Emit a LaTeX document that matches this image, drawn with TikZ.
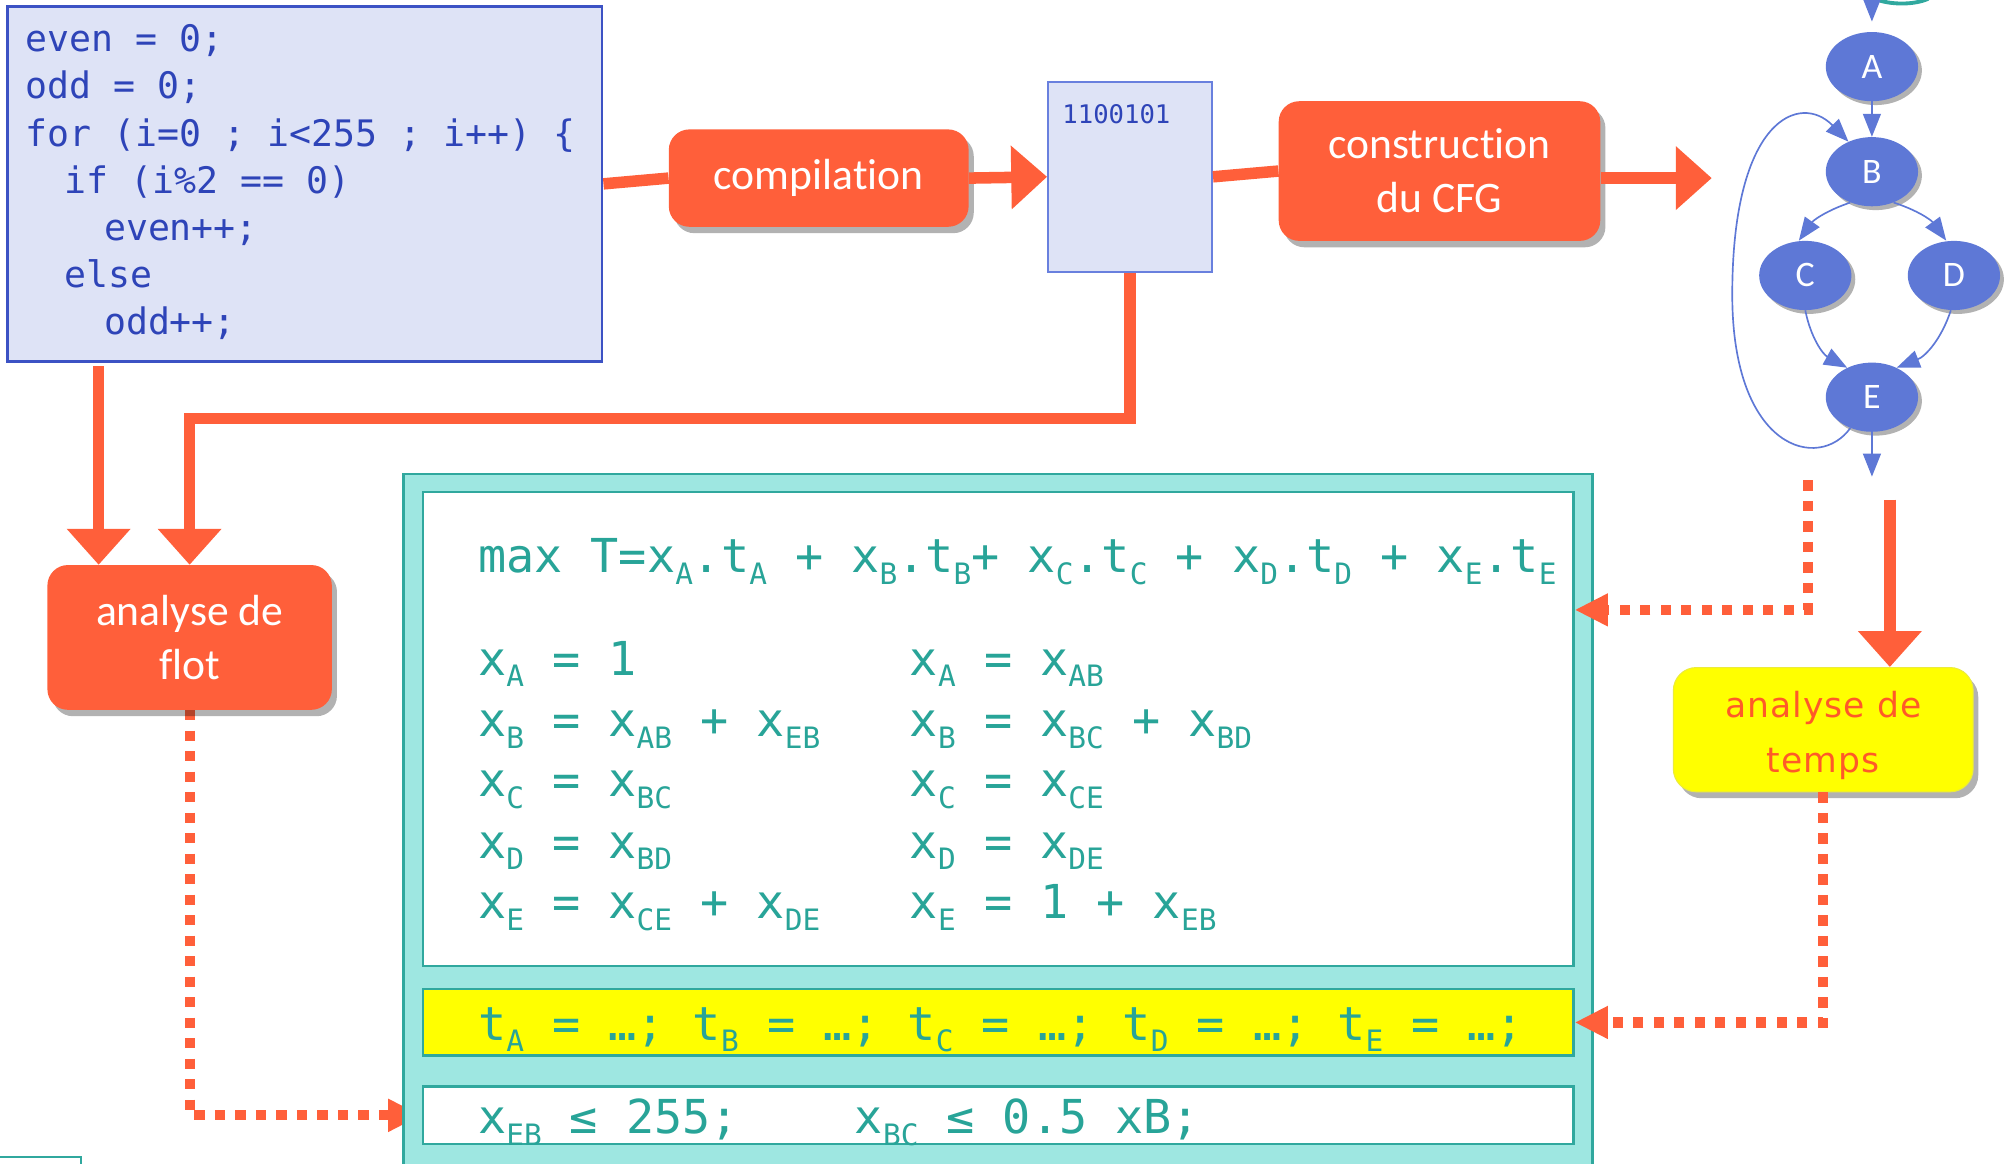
\documentclass[tikz,border=0pt]{standalone}
\usepackage{fontspec}
\setmainfont{Carlito}[Ligatures=NoCommon]
\newfontfamily\codefont{DejaVu Sans Mono}
\newfontfamily\verdfont{DejaVu Sans}[LetterSpace=3]
\usetikzlibrary{arrows.meta,shadows,shapes.geometric,backgrounds}
\definecolor{orng}{RGB}{255,95,58}
\definecolor{codefill}{RGB}{222,227,246}
\definecolor{codeline}{RGB}{60,82,196}
\definecolor{codetext}{RGB}{46,68,184}
\definecolor{binline}{RGB}{105,128,222}
\definecolor{cfgblue}{RGB}{94,120,214}
\definecolor{tealfill}{RGB}{158,231,225}
\definecolor{tealline}{RGB}{48,168,158}
\definecolor{tealtext}{RGB}{40,164,152}
\definecolor{ylw}{RGB}{255,255,0}
\definecolor{temptext}{RGB}{255,90,40}
\newcommand{\sbs}[1]{\raisebox{-9pt}{\fontsize{23}{23}\selectfont #1}}
\begin{document}
\begin{tikzpicture}[x=1pt,y=1pt,
  obox/.style={fill=orng, rounded corners=16pt, text=white, font=\fontsize{34}{42}\selectfont, align=center, inner sep=0pt,
    drop shadow={shadow xshift=4pt, shadow yshift=-5pt, opacity=0.3, fill=black}},
  bigline/.style={draw=orng, line width=9pt},
  bigarrow/.style={draw=orng, line width=9pt, -{Triangle[length=28pt,width=48pt]}},
  dotarrow/.style={draw=orng, line width=8pt, dash pattern=on 8pt off 8pt, -{Triangle[length=26pt,width=24pt]}},
  cfgnode/.style={ellipse, fill=cfgblue, text=white, minimum width=72pt, minimum height=54pt, inner sep=0pt,
    font=\fontsize{28}{28}\selectfont, drop shadow={shadow xshift=3pt, shadow yshift=-3pt, opacity=0.3, fill=black}},
  cfge/.style={draw=cfgblue, line width=1.3pt, -{Triangle[length=18pt,width=14pt]}},
  codetxt/.style={anchor=base west, inner sep=0pt, text=codetext, font=\codefont\fontsize{28.5}{28.5}\selectfont},
  eqtxt/.style={anchor=base west, inner sep=0pt, text=tealtext, font=\codefont\fontsize{36.5}{36.5}\selectfont},
  wbox/.style={draw=tealline, line width=2pt, fill=white, inner sep=0pt},
]
\useasboundingbox (0,0) rectangle (1568,-908);

\node[obox, minimum width=222pt, minimum height=113pt] (flot) at (148,-497.5) {analyse de\\flot};

% teal panel
\node[draw=tealline, line width=2pt, fill=tealfill, minimum width=928pt, minimum height=545pt, inner sep=0pt] (panel) at (779,-642.5) {};
\node[wbox, minimum width=898pt, minimum height=370pt] (ineq) at (779,-569) {};
\node[wbox, fill=ylw, minimum width=898pt, minimum height=52pt] (yel) at (779,-798) {};
\node[wbox, minimum width=898pt, minimum height=45pt] (cons) at (779,-870.5) {};

% left dotted arrow (drawn under the teal panel)
\begin{pgfonlayer}{background}
\draw[dotarrow] (flot.south) |- (cons.west);
\end{pgfonlayer}

% equations
\node[eqtxt] (e0) at (373,-447) {max T=x\sbs{A}.t\sbs{A} + x\sbs{B}.t\sbs{B}+ x\sbs{C}.t\sbs{C} + x\sbs{D}.t\sbs{D} + x\sbs{E}.t\sbs{E}};
\node[eqtxt] (l1) at (373,-527) {x\sbs{A} = 1};
\node[eqtxt] (l2) at (373,-575) {x\sbs{B} = x\sbs{AB} + x\sbs{EB}};
\node[eqtxt] (l3) at (373,-622) {x\sbs{C} = x\sbs{BC}};
\node[eqtxt] (l4) at (373,-670) {x\sbs{D} = x\sbs{BD}};
\node[eqtxt] (l5) at (373,-717) {x\sbs{E} = x\sbs{CE} + x\sbs{DE}};
\node[eqtxt] (r1) at (710,-527) {x\sbs{A} = x\sbs{AB}};
\node[eqtxt] (r2) at (710,-575) {x\sbs{B} = x\sbs{BC} + x\sbs{BD}};
\node[eqtxt] (r3) at (710,-622) {x\sbs{C} = x\sbs{CE}};
\node[eqtxt] (r4) at (710,-670) {x\sbs{D} = x\sbs{DE}};
\node[eqtxt] (r5) at (710,-717) {x\sbs{E} = 1 + x\sbs{EB}};
\node[eqtxt] (tt) at (373,-812) {t\sbs{A} = …; t\sbs{B} = …; t\sbs{C} = …; t\sbs{D} = …; t\sbs{E} = …;};
\node[eqtxt] (b1) at (373,-885) {x\sbs{EB} ≤ 255;};
\node[eqtxt] (b2) at (667,-885) {x\sbs{BC} ≤ 0.5 xB;};

% code box
\node[draw=codeline, line width=2pt, fill=codefill, minimum width=464pt, minimum height=277pt, inner sep=0pt] (code) at (238,-143.5) {};
\node[codetxt] (c1) at (20,-40) {even = 0;};
\node[codetxt] (c2) at (20,-77) {odd = 0;};
\node[codetxt] (c3) at (20,-114) {for (i=0 ; i<255 ; i++) \{};
\node[codetxt] (c4) at (50,-151) {if (i\%2 == 0)};
\node[codetxt] (c5) at (81,-188) {even++;};
\node[codetxt] (c6) at (50,-224) {else};
\node[codetxt] (c7) at (81,-261) {odd++;};

% binary box
\node[draw=binline, line width=1.5pt, fill=codefill, minimum width=128pt, minimum height=148pt, inner sep=0pt] (bin) at (882,-138) {};
\node[anchor=base west, inner sep=0pt, text=codetext, font=\codefont\fontsize{20}{20}\selectfont] (bits) at (829,-96) {1100101};

% orange process boxes
\node[obox, minimum width=234pt, minimum height=76pt] (comp) at (639,-139) {compilation};
\node[obox, minimum width=251pt, minimum height=109pt] (cfgb) at (1123.5,-133.5) {construction\\du CFG};
\node[fill=ylw, draw={rgb,255:red,235;green,235;blue,60}, line width=0.8pt, rounded corners=18pt, minimum width=234pt, minimum height=97pt, inner sep=0pt,
  drop shadow={shadow xshift=4pt, shadow yshift=-5pt, opacity=0.3, fill=black}] (temps) at (1423,-569.5) {};
\node[text=temptext, align=center, inner sep=0pt, font=\verdfont\fontsize{27}{43}\selectfont] (tempstxt) at (1423,-574) {analyse de\\temps};

% top flow
\draw[bigline] (code.east) -- (comp.west);
\draw[bigarrow] (comp.east) -- (bin.west);
\draw[bigline] (bin.east) -- (cfgb.west);
\coordinate (cfgin) at (1336,-139);
\draw[bigarrow] (cfgb.east |- cfgin) -- (cfgin);

% arrows to flow analysis
\draw[bigarrow] ([xshift=72pt,yshift=-3pt]code.south west) -- ([xshift=72pt]code.south west |- flot.north);
\draw[bigarrow] (bin.south) |- ([yshift=114pt]flot.north) -- (flot.north);

% CFG
\draw[tealline, line width=3pt] (1463,1) .. controls (1475,-4) and (1494,-4) .. (1505,1);
\node[cfgnode] (A) at (1461,-52) {A};
\node[cfgnode] (B) at (1461,-134) {B};
\node[cfgnode] (C) at (1409,-215) {C};
\node[cfgnode] (D) at (1525,-215) {D};
\node[cfgnode] (E) at (1461,-310) {E};
\coordinate (atop) at (1461,2);
\draw[cfge] (atop) -- ([yshift=8pt]A.north);
\draw[cfge] (A) -- (B);
\draw[cfge] (B.235) to[bend right=18] ([xshift=-5pt]C.north);
\draw[cfge] (B.-55) to[bend left=18] ([xshift=-6pt]D.north);
\draw[cfge] (C.south) to[bend right=25] (E.130);
\draw[cfge] (D.-95) to[bend left=25] (E.50);
\draw[cfge] (E.235) .. controls (1420,-368) and (1352,-352) .. (1352,-230) .. controls (1352,-92) and (1405,-72) .. (B.128);
\coordinate (eout) at (1461,-372);
\draw[cfge] (E.south) -- (eout);

% time analysis
\coordinate (cfgout) at (1475,-390);
\draw[bigarrow] (cfgout) -- (cfgout |- temps.north);
\coordinate (cfgdot) at (1411,-375);
\draw[dotarrow] (cfgdot) |- ([yshift=93pt]ineq.east);
\draw[dotarrow] (temps.south) |- (yel.east);

% partial box bottom-left
\draw[tealline, line width=1.5pt] (0,-903) -- (63,-903) -- (63,-912);
\end{tikzpicture}
\end{document}
